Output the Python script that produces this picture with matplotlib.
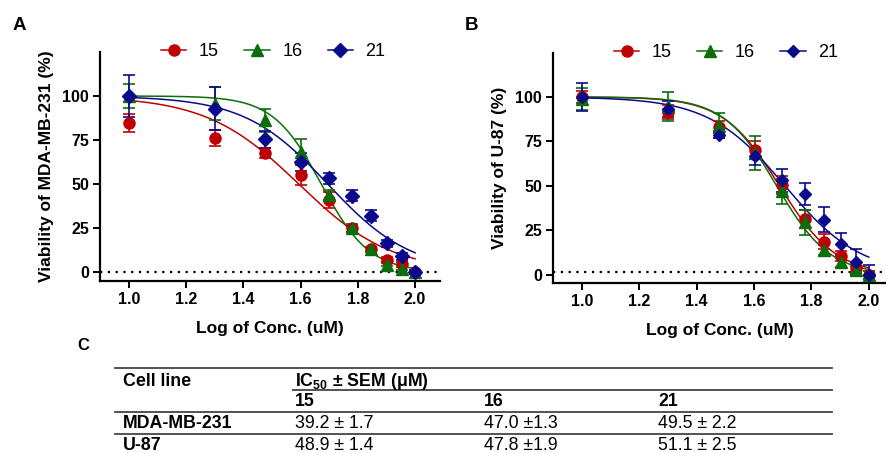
import numpy as np
import matplotlib
matplotlib.use("Agg")
import matplotlib.pyplot as plt

plt.rcParams['font.family'] = ['Liberation Sans', 'DejaVu Sans']
plt.rcParams['mathtext.fontset'] = 'custom'
plt.rcParams['mathtext.rm'] = 'Liberation Sans'
plt.rcParams['mathtext.bf'] = 'Liberation Sans:bold'

# log10 of concentration (10..100 uM)
log_conc = [1.0, 1.301, 1.477, 1.602, 1.699, 1.778, 1.845, 1.903, 1.954, 2.0]
compounds = ['15', '16', '21']

# panel A: MDA-MB-231 viability (%) and SEM
mda_15 = [84.7, 76.2, 67.7, 55.1, 41.0, 24.9, 13.0, 7.0, 4.7, 0.0]
mda_15_err = [5.0, 4.5, 3.0, 5.5, 4.5, 2.0, 1.5, 1.5, 1.0, 1.0]
mda_16 = [100.0, 95.7, 86.2, 68.3, 43.8, 25.0, 13.0, 4.2, 2.0, 0.0]
mda_16_err = [7.0, 9.5, 6.5, 7.5, 3.0, 2.5, 1.0, 1.0, 1.0, 1.0]
mda_21 = [100.0, 92.8, 75.3, 62.6, 53.2, 43.4, 32.0, 16.4, 8.9, 0.0]
mda_21_err = [12.0, 12.3, 5.0, 5.0, 3.0, 3.0, 3.0, 2.0, 2.0, 1.0]

# panel B: U-87 viability (%) and SEM
u87_15 = [100.0, 91.4, 83.1, 70.4, 50.7, 31.5, 18.8, 10.7, 4.1, 0.0]
u87_15_err = [3.5, 4.0, 3.5, 5.0, 5.0, 5.0, 4.0, 3.0, 3.0, 2.0]
u87_16 = [98.9, 94.7, 83.9, 68.5, 46.9, 29.5, 14.1, 7.1, 2.8, 0.0]
u87_16_err = [6.0, 8.0, 7.0, 9.5, 7.0, 7.0, 3.0, 2.5, 2.5, 2.0]
u87_21 = [100.0, 93.2, 78.8, 66.6, 53.1, 45.6, 31.0, 17.4, 7.5, 0.0]
u87_21_err = [7.8, 4.5, 2.0, 5.0, 6.3, 6.3, 7.0, 6.0, 7.3, 5.6]

# fitted dose-response curves: logIC50 (from table) and Hill slope
mda_logic50 = [np.log10(39.2), np.log10(47.0), np.log10(49.5)]
mda_hill = [2.68, 5.15, 2.98]
u87_logic50 = [np.log10(48.9), np.log10(47.8), np.log10(51.1)]
u87_hill = [4.44, 4.69, 3.27]

# IC50 table
table_cols = ['15', '16', '21']
table_rows = ['MDA-MB-231', 'U-87']
table_vals = [['39.2 ± 1.7', '47.0 ±1.3', '49.5 ± 2.2'],
              ['48.9 ± 1.4', '47.8 ±1.9', '51.1 ± 2.5']]

colors = ['#C00000', '#0A6E0A', '#0A0A8C']
markers = ['o', '^', 'D']
msizes = [8, 8, 7.5]

W, H = 886, 453
fig = plt.figure(figsize=(W / 100, H / 100), dpi=100)


def px_axes(l, t, r, b):
    return fig.add_axes([l / W, 1 - b / H, (r - l) / W, (b - t) / H])


def draw_panel(ax, ys, errs, logic50, hill, ylabel, xlim, ylim, dot_y, legx, msz_b=None):
    xs = np.linspace(1.0, 2.0, 300)
    for i in range(3):
        curve = 100 / (1 + 10 ** ((xs - logic50[i]) * hill[i]))
        ax.plot(xs, curve, color=colors[i], lw=1.1, zorder=2)
    ax.axhline(dot_y, color='black', ls=(0, (1, 2.5)), lw=1.6, zorder=1)
    handles = []
    for i in range(3):
        ms = msizes[i] if msz_b is None else msz_b[i]
        ax.errorbar(log_conc, ys[i], yerr=errs[i], fmt='none', ecolor=colors[i],
                    elinewidth=1.2, capsize=4, capthick=1.2, zorder=3)
        ax.plot(log_conc, ys[i], ls='none', marker=markers[i], ms=ms,
                color=colors[i], zorder=4)
        h, = ax.plot([], [], color=colors[i], marker=markers[i], ms=ms, lw=1.1)
        handles.append(h)
    ax.legend(handles, compounds, loc='center', bbox_to_anchor=(legx, 1.0),
              ncol=3, frameon=False, fontsize=13, handlelength=1.4,
              handletextpad=0.7, columnspacing=1.4)
    ax.set_xlim(*xlim)
    ax.set_ylim(*ylim)
    ax.set_xticks([1.0, 1.2, 1.4, 1.6, 1.8, 2.0])
    ax.set_xticklabels(['1.0', '1.2', '1.4', '1.6', '1.8', '2.0'])
    ax.set_yticks([0, 25, 50, 75, 100])
    for s in ['top', 'right']:
        ax.spines[s].set_visible(False)
    for s in ['left', 'bottom']:
        ax.spines[s].set_linewidth(1.6)
    ax.tick_params(width=1.4, length=5, labelsize=11.5, pad=3)
    for lab in ax.get_xticklabels() + ax.get_yticklabels():
        lab.set_fontweight('bold')
    ax.set_xlabel('Log of Conc. (uM)', fontsize=12.5, fontweight='bold', labelpad=10)
    ax.set_ylabel(ylabel, fontsize=12.5, fontweight='bold', labelpad=6)


axA = px_axes(100, 52, 440, 281)
draw_panel(axA, [mda_15, mda_16, mda_21], [mda_15_err, mda_16_err, mda_21_err],
           mda_logic50, mda_hill, 'Viability of MDA-MB-231 (%)',
           (0.899, 2.087), (-5.1, 125), 0, 0.51)

axB = px_axes(553, 53, 886, 283)
draw_panel(axB, [u87_15, u87_16, u87_21], [u87_15_err, u87_16_err, u87_21_err],
           u87_logic50, u87_hill, 'Viability of U-87 (%)',
           (0.9, 2.06), (-4.5, 124.7), 1.5, 0.52, msz_b=[8, 8, 6])

# panel letters
fig.text(13 / W, 1 - 25 / H, 'A', fontsize=13.5, fontweight='bold', va='center')
fig.text(465 / W, 1 - 25 / H, 'B', fontsize=13.5, fontweight='bold', va='center')
fig.text(77 / W, 1 - 345 / H, 'C', fontsize=12, fontweight='bold', va='center')

# table
tx0, tx1 = 115, 832
col_x = [295, 484, 658]
for yline, xs in [(368, tx0), (390, 293), (412, tx0), (434, tx0)]:
    fig.add_artist(plt.Line2D([xs / W, tx1 / W], [1 - yline / H, 1 - yline / H],
                              color='#444444', lw=1.3))
fs = 12.8
fig.text(123 / W, 1 - 381 / H, 'Cell line', fontsize=fs, fontweight='bold', va='center')
fig.text(col_x[0] / W, 1 - 381 / H, r'IC$_{\mathbf{50}}$ ± SEM (μM)', fontsize=fs,
         fontweight='bold', va='center')
for j, c in enumerate(table_cols):
    fig.text(col_x[j] / W, 1 - 402 / H, c, fontsize=fs, fontweight='bold', va='center')
row_y = [424, 446]
for i, r in enumerate(table_rows):
    fig.text(123 / W, 1 - row_y[i] / H, r, fontsize=fs, fontweight='bold', va='center')
    for j in range(3):
        fig.text(col_x[j] / W, 1 - row_y[i] / H, table_vals[i][j], fontsize=fs, va='center')

fig.savefig('out.png', dpi=100)
